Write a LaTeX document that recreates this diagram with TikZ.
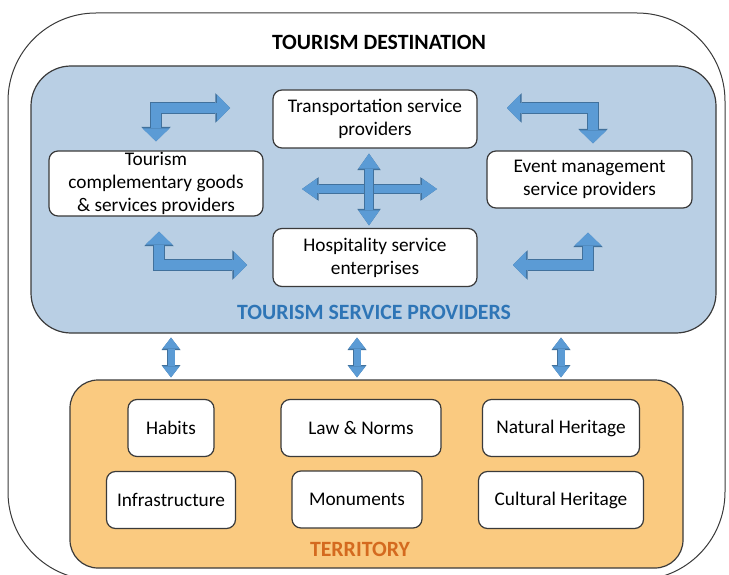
\documentclass[tikz,border=0pt]{standalone}
\usepackage{fontspec}
\setmainfont{Carlito}
\usetikzlibrary{arrows.meta,positioning}
\definecolor{panelblue}{HTML}{B9CFE4}
\definecolor{arrowblue}{HTML}{5B9BD5}
\definecolor{arrowedge}{HTML}{41719C}
\definecolor{titleblue}{HTML}{2E75B6}
\definecolor{territoryfill}{HTML}{FACA80}
\definecolor{territorytext}{HTML}{D46A1F}
\definecolor{edgegray}{HTML}{3A3A3A}

\begin{document}
\begin{tikzpicture}[x=1pt,y=-1pt,node distance=72pt,
    font=\fontsize{19.3}{23}\selectfont,
    box/.style={draw=edgegray,fill=white,line width=1.2pt,rounded corners=9pt,
        align=center,inner sep=0pt,minimum height=57pt},
    heading/.style={font=\fontsize{21.8}{25}\selectfont\bfseries},
    bentarrow/.style={draw=arrowblue,line width=10pt,line join=miter,
        {Triangle[width=27pt,length=13pt,line width=0pt]}-{Triangle[width=27pt,length=13pt,line width=0pt]},
        preaction={draw=arrowedge,line width=11.6pt,
        {Triangle[width=29.5pt,length=14.6pt,line width=0pt]}-{Triangle[width=29.5pt,length=14.6pt,line width=0pt]}}},
    crossarrow/.style={draw=arrowblue,line width=8pt,
        {Triangle[width=21pt,length=15pt,line width=0pt]}-{Triangle[width=21pt,length=15pt,line width=0pt]},
        preaction={draw=arrowedge,line width=9.4pt,
        {Triangle[width=23.5pt,length=16.6pt,line width=0pt]}-{Triangle[width=23.5pt,length=16.6pt,line width=0pt]}}},
    linkarrow/.style={draw=arrowblue,line width=7pt,
        {Triangle[width=17pt,length=11pt,line width=0pt]}-{Triangle[width=17pt,length=11pt,line width=0pt]},
        preaction={draw=arrowedge,line width=8.4pt,
        {Triangle[width=19pt,length=12.4pt,line width=0pt]}-{Triangle[width=19pt,length=12.4pt,line width=0pt]}}}]
    \useasboundingbox (0,0) rectangle (729,575);
    % destination frame
    \node[draw=edgegray,line width=1pt,rounded corners=88pt,minimum width=717pt,minimum height=567pt] (destination) at (366.5,296.5) {};
    \node[heading] (desttitle) at (379,42) {TOURISM DESTINATION};

    % tourism service providers
    \node[draw=edgegray,fill=panelblue,line width=1.2pt,rounded corners=40pt,minimum width=685pt,minimum height=267pt] (providers) at (373.5,199.5) {};
    \node[heading,text=titleblue] (provlabel) at (374,312) {TOURISM SERVICE PROVIDERS};
    \node[box,minimum width=204pt,minimum height=58pt] (trans) at (375,119) {Transportation service\\providers};
    \node[box,minimum width=204pt,minimum height=58pt,node distance=138.5pt] (hosp) [below of=trans] {Hospitality service\\enterprises};
    \node[box,minimum width=214pt,minimum height=65pt] (compl) at (156,183.5) {Tourism\\complementary goods\\\& services providers};
    \node[box,minimum width=205pt] (event) at (589.5,179.5) {Event management\\service providers};

    \coordinate (cross) at (369,189);
    \coordinate (crossw) at (302,189);
    \coordinate (crosse) at (437,189);
    \draw[crossarrow] (crossw) -- (crosse);
    \draw[crossarrow,shorten <=5pt,shorten >=2.5pt] (cross |- trans.south) -- (cross |- hosp.north);

    \coordinate (tl) at (230,108);
    \coordinate (tr) at (507,108);
    \coordinate (bl) at (247,265);
    \coordinate (br) at (513,265);
    \draw[bentarrow,shorten >=9pt] (tl) -| (compl.north);
    \draw[bentarrow,shorten >=7pt] (tr) -| ([xshift=3.5pt]event.north);
    \draw[bentarrow,shorten <=15pt] ([xshift=3pt]compl.south) |- (bl);
    \draw[bentarrow,shorten <=24pt] ([xshift=-1.5pt]event.south) |- (br);

    % territory
    \node[draw=edgegray,fill=territoryfill,line width=1.2pt,rounded corners=28pt,minimum width=613pt,minimum height=188pt] (territory) at (376.5,474) {};
    \node[heading,text=territorytext] (terrlabel) at (360,549) {TERRITORY};
    \node[box,minimum width=86pt] (habits) at (171,428) {Habits};
    \node[box,minimum width=160pt,node distance=190pt] (law) [right of=habits] {Law \& Norms};
    \node[box,minimum width=157pt,node distance=200pt] (natural) [right of=law] {Natural Heritage};
    \node[box,minimum width=129pt] (infra) [below of=habits] {Infrastructure};
    \node[box,minimum width=130pt] (monuments) at (357,499.5) {Monuments};
    \node[box,minimum width=165pt] (cultural) [below of=natural] {Cultural Heritage};

    \foreach \n in {habits,monuments,cultural}
        \draw[linkarrow,shorten <=4pt,shorten >=2pt] (providers.south -| \n) -- (territory.north -| \n);
\end{tikzpicture}
\end{document}
